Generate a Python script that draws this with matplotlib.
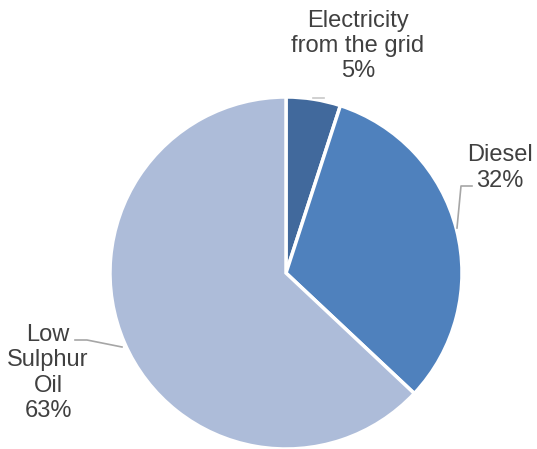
import matplotlib.pyplot as plt

categories = ["Electricity\nfrom the grid", "Diesel", "Low\nSulphur\nOil"]
shares = [5, 32, 63]
colors = ["#41699C", "#4F81BD", "#ADBCD9"]

W, H = 537, 449
fig = plt.figure(figsize=(W / 100, H / 100), dpi=100)
ax = fig.add_axes([0, 0, 1, 1])

cx, cy, r = 286, H - 273, 176
ax.pie(shares, colors=colors, startangle=90, counterclock=False,
       center=(cx, cy), radius=r, frame=True,
       wedgeprops=dict(edgecolor="white", linewidth=2.5))
ax.set_xlim(0, W)
ax.set_ylim(0, H)
ax.set_aspect("equal")
ax.axis("off")

text_kw = dict(ha="center", va="center", fontsize=17, color="#404040",
               family=["Liberation Sans", "DejaVu Sans"], linespacing=1.2)
label_pos = [(358, H - 46), (500, H - 168), (48, H - 373)]
for name, val, (tx, ty) in zip(categories, shares, label_pos):
    ax.text(tx, ty, f"{name}\n{val}%", **text_kw)

line_kw = dict(color="#A6A6A6", linewidth=1.2)
ax.plot([313, 324], [H - 98, H - 98], color="#C8C8C8", linewidth=1.2)
ax.plot([472, 461, 457], [H - 186, H - 186, H - 228], **line_kw)
ax.plot([75, 87, 122], [H - 340, H - 340, H - 347], **line_kw)

fig.savefig("out.png", dpi=100)
